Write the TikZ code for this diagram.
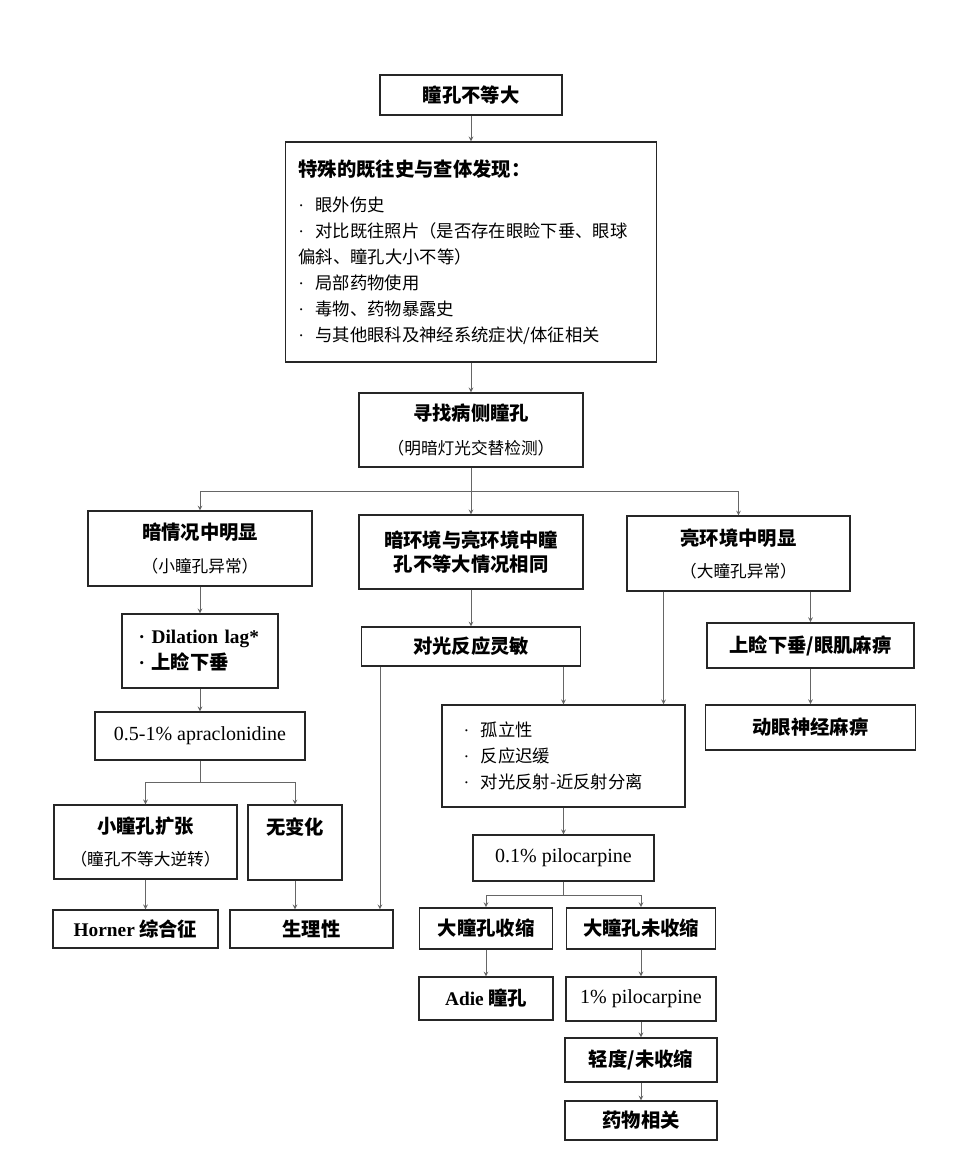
\documentclass[tikz,border=0pt]{standalone}
\usepackage{fontspec}
\setmainfont{Liberation Serif}
\newfontfamily\cjk{Noto Sans CJK SC}
\newcommand{\hdfont}{\cjk\bfseries\fontsize{14.5}{18}\selectfont}
\newcommand{\smfont}{\cjk\mdseries\fontsize{12.5}{18}\selectfont}
\newcommand{\latfont}{\rmfamily\fontsize{15}{18}\selectfont}
\newcommand{\latbf}{\rmfamily\bfseries\fontsize{14.5}{18}\selectfont}
\newcommand{\dotitem}{{\rmfamily·}\ \ }
\tikzset{
  box/.style={draw=black!85, line width=1.1pt, inner sep=0pt, align=center, font=\hdfont},
  link/.style={draw=black!60, line width=0.6pt, ->},
}

\begin{document}
\begin{tikzpicture}[x=0.75pt, y=-0.75pt, >=stealth]
  \useasboundingbox (0,0) rectangle (960,1174);
  % top of the chart
  \node[box, minimum width=136.5pt, minimum height=30pt] (b1) at (471,95) {瞳孔不等大};
  \node[box, align=left, text width=259pt, inner xsep=9.5pt, minimum height=165pt,
        font=\cjk\fontsize{13}{19.5}\selectfont] (b2) at (471,252)
    {{\bfseries\fontsize{14.5}{18}\selectfont 特殊的既往史与查体发现：}\\[7pt]
     \dotitem 眼外伤史\\
     \dotitem 对比既往照片（是否存在眼睑下垂、眼球\\
     偏斜、瞳孔大小不等）\\
     \dotitem 局部药物使用\\
     \dotitem 毒物、药物暴露史\\
     \dotitem 与其他眼科及神经系统症状/体征相关};
  \node[box, minimum width=168pt, minimum height=55.5pt] (b3) at (471,430)
    {寻找病侧瞳孔\\[7pt]{\smfont （明暗灯光交替检测）}};
  % three branches
  \node[box, minimum width=168pt, minimum height=56pt] (b4) at (200,548.5)
    {暗情况中明显\\[7pt]{\smfont （小瞳孔异常）}};
  \node[box, minimum width=168pt, minimum height=55.5pt] (b5) at (471,552)
    {暗环境与亮环境中瞳\\孔不等大情况相同};
  \node[box, minimum width=167pt, minimum height=56pt] (b6) at (738.5,553.5)
    {亮环境中明显\\[6pt]{\smfont （大瞳孔异常）}};
  % left column
  \node[box, align=left, text width=92pt, minimum width=117pt, minimum height=55.5pt] (b7) at (200,651)
    {{\latbf · Dilation lag*}\\[1.5pt]{\latbf ·} 上睑下垂};
  \node[box, minimum width=157.5pt, minimum height=36pt, font=\latfont] (b11) at (200,736)
    {0.5-1\% apraclonidine};
  \node[box, minimum width=137pt, minimum height=55.5pt] (b12) at (145.5,842)
    {小瞳孔扩张\\[6pt]{\smfont （瞳孔不等大逆转）}};
  \node[box, minimum width=70.5pt, minimum height=56pt] (b13) at (295,842.5)
    {无变化\\[6pt]{\smfont\phantom{瞳孔}}};
  \node[box, minimum width=124pt, minimum height=28.5pt] (b14) at (135.5,929)
    {{\latbf Horner} 综合征};
  \node[box, minimum width=122pt, minimum height=28.5pt] (b15) at (311.5,929) {生理性};
  % middle column
  \node[box, minimum width=164pt, minimum height=29pt] (b8) at (471,646.5) {对光反应灵敏};
  \node[box, align=left, text width=150pt, minimum width=182pt, minimum height=76.5pt,
        font=\cjk\fontsize{13}{19.5}\selectfont] (b16) at (563.5,756)
    {\dotitem 孤立性\\
     \dotitem 反应迟缓\\
     \dotitem 对光反射-近反射分离};
  \node[box, minimum width=136pt, minimum height=34.5pt, font=\latfont] (b17) at (563.5,858)
    {0.1\% pilocarpine};
  \node[box, minimum width=100pt, minimum height=31pt] (b18) at (486,928.5) {大瞳孔收缩};
  \node[box, minimum width=112pt, minimum height=31pt] (b19) at (641,928.5) {大瞳孔未收缩};
  \node[box, minimum width=100.5pt, minimum height=32pt] (b20) at (486,998.5)
    {{\latbf Adie} 瞳孔};
  \node[box, minimum width=112.5pt, minimum height=33pt, font=\latfont] (b21) at (641,999)
    {1\% pilocarpine};
  \node[box, minimum width=114pt, minimum height=33pt] (b22) at (641,1060) {轻度/未收缩};
  \node[box, minimum width=114pt, minimum height=29pt] (b23) at (641,1120.5) {药物相关};
  % right column
  \node[box, minimum width=155pt, minimum height=34pt] (b9) at (810.5,645.5) {上睑下垂/眼肌麻痹};
  \node[box, minimum width=157.5pt, minimum height=34pt] (b10) at (810.5,727.5) {动眼神经麻痹};
  % junctions
  \coordinate (j1) at (471,491);
  \coordinate (j2) at (200,782);
  \coordinate (j3) at (563.5,895);
  % connectors
  \draw[link] (b1) -- (b2);
  \draw[link] (b2) -- (b3);
  \draw[link,-] (b3) -- (j1);
  \draw[link] (j1) -| (b4.north);
  \draw[link] (j1) -| (b6.north);
  \draw[link] (j1) -- (b5.north);
  \draw[link] (b4) -- (b7);
  \draw[link] (b7) -- (b11);
  \draw[link,-] (b11) -- (j2);
  \draw[link] (j2) -| (b12.north);
  \draw[link] (j2) -| (b13.north);
  \draw[link] (b12.south) -- (b12.south |- b14.north);
  \draw[link] (b13.south) -- (b13.south |- b15.north);
  \draw[link] (b5) -- (b8);
  \draw[link] ([xshift=14.25pt]b8.south west) -- ([xshift=14.25pt]b8.south west |- b15.north);
  \draw[link] (b8.south -| b16.north) -- (b16.north);
  \draw[link] ([xshift=-16.5pt]b16.north east |- b6.south) -- ([xshift=-16.5pt]b16.north east);
  \draw[link] (b6.south -| b9.north) -- (b9.north);
  \draw[link] (b9) -- (b10);
  \draw[link] (b16) -- (b17);
  \draw[link,-] (b17) -- (j3);
  \draw[link] (j3) -| (b18.north);
  \draw[link] (j3) -| (b19.north);
  \draw[link] (b18) -- (b20);
  \draw[link] (b19) -- (b21);
  \draw[link] (b21) -- (b22);
  \draw[link] (b22) -- (b23);
\end{tikzpicture}
\end{document}
